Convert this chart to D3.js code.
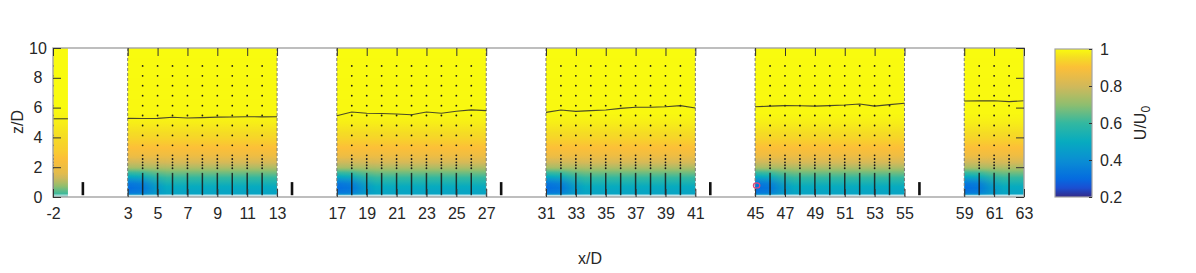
<!DOCTYPE html>
<html><head><meta charset="utf-8">
<script src="https://cdn.jsdelivr.net/npm/d3@7"></script>
<style>
body{margin:0;background:#fff;}
svg{display:block;font-family:"Liberation Sans",Arial,Helvetica,sans-serif;}
</style>
</head><body>
<svg id="c" width="1196" height="273"></svg>
<script>
// ---------- data ----------
const xTickValues = [-2,3,5,7,9,11,13,17,19,21,23,25,27,31,33,35,37,39,41,45,47,49,51,53,55,59,61,63];
const yTickValues = [0,2,4,6,8,10];
const cbTickValues = [0.2,0.4,0.6,0.8,1];
const panelStart = [-2,3,17,31,45,59];
const panelEnd   = [-1,13,27,41,55,63];
const dashedX = [3,13,17,27,31,41,45,55,59];
const turbineX = [0,14,28,42,56];
const turbineZ = [0.12,1.0];
const probeX = [-2,4,5,6,7,8,9,10,11,12,18,19,20,21,22,23,24,25,26,32,33,34,35,36,37,38,39,40,46,47,48,49,50,51,52,53,54,60,61,62];
const probeDotZ = [8.8,8.13,7.47,6.8,6.13,5.47,4.8,4.13,3.47,2.8,2.55,2.33,2.13,1.93];
const probeRakeZ = [0.12,1.62];
// inflow profile (x=-2..-1)
const inflowZ = [0,0.15,0.5,1.0,1.6,2.2,3.0,4.0,5.0,6.0,10];
const inflowU = [0.6,0.6,0.66,0.75,0.84,0.88,0.92,0.95,0.98,1.0,1.0];
// wake profile (downstream panels)
const wakeZ = [0,0.15,0.4,0.7,1.0,1.3,1.7,2.0,2.4,2.8,3.3,4.0,5.0,5.6,10];
const wakeU = [0.48,0.48,0.48,0.5,0.55,0.6,0.68,0.75,0.82,0.87,0.9,0.94,0.98,0.995,1.0];
// near-wake profile (panel inlet)
const nearZ = [0,0.15,0.3,0.6,0.9,1.2,1.5,2.0,2.8,10];
const nearU = [0.42,0.4,0.33,0.3,0.33,0.42,0.55,0.74,0.87,1.0];
// U/U0 = 0.99 contour
const contourX = [
  [-2,-1],
  [3,4,5,6,7,8,9,10,11,12,13],
  [17,18,19,20,21,22,23,24,25,26,27],
  [31,32,33,34,35,36,37,38,39,40,41],
  [45,46,47,48,49,50,51,52,53,54,55],
  [59,60,61,62,63]
];
const contourZ = [
  [5.25,5.25],
  [5.28,5.27,5.28,5.35,5.3,5.33,5.36,5.37,5.39,5.38,5.39],
  [5.45,5.7,5.62,5.6,5.57,5.52,5.7,5.62,5.75,5.85,5.8],
  [5.68,5.84,5.75,5.8,5.84,5.95,6.02,6.02,6.06,6.13,5.97],
  [6.06,6.1,6.13,6.12,6.1,6.13,6.17,6.24,6.1,6.2,6.29],
  [6.44,6.45,6.46,6.4,6.46]
];
const markerX = [45.1];
const markerZ = [0.78];
// parula colormap
const parulaT = [0,0.0625,0.125,0.25,0.375,0.5,0.625,0.75,0.875,0.94,1];
const parulaC = ["#352a87","#1a4fd4","#046ce0","#0a8fd3","#07abbf","#33b8a0","#90be6e","#d2b95a","#fcbf38","#f5dc24","#f9fb0e"];

// ---------- scales ----------
const svg = d3.select("#c");
const x = d3.scaleLinear().domain([-2,63]).range([53,1024]);
const y = d3.scaleLinear().domain([0,10]).range([197,48]);
const cmap = d3.scaleLinear().domain(parulaT).range(parulaC).interpolate(d3.interpolateRgb).clamp(true);
const uColor = u => cmap((u-0.2)/0.8);
const defs = svg.append("defs");

defs.append("clipPath").attr("id","plotclip").append("rect")
  .attr("x",x(-2)).attr("y",y(10)).attr("width",x(63)-x(-2)).attr("height",y(0)-y(10));

function vGrad(id, zs, us){
  const prof = d3.scaleLinear().domain(zs).range(us).clamp(true);
  const g = defs.append("linearGradient").attr("id",id)
    .attr("gradientUnits","userSpaceOnUse")
    .attr("x1",0).attr("x2",0).attr("y1",y(0)).attr("y2",y(10));
  d3.range(0,10.001,0.05).forEach(z=>{
    g.append("stop").attr("offset",z/10).attr("stop-color",uColor(prof(z)));
  });
}
vGrad("gInflow",inflowZ,inflowU);
vGrad("gWake",wakeZ,wakeU);
vGrad("gNear",nearZ,nearU);

const hm = defs.append("linearGradient").attr("id","gMaskH").attr("x1",0).attr("x2",1).attr("y1",0).attr("y2",0);
[[0,1],[0.35,0.85],[0.7,0.3],[1,0]].forEach(s=>hm.append("stop").attr("offset",s[0]).attr("stop-color","#fff").attr("stop-opacity",s[1]));
defs.append("mask").attr("id","mNear").attr("maskContentUnits","objectBoundingBox")
  .append("rect").attr("x",0).attr("y",0).attr("width",1).attr("height",1).attr("fill","url(#gMaskH)");

const plot = svg.append("g").attr("clip-path","url(#plotclip)");

// field panels
panelStart.forEach((s,i)=>{
  const e = panelEnd[i];
  plot.append("rect").attr("x",x(s)).attr("y",y(10)).attr("width",x(e)-x(s)).attr("height",y(0.15)-y(10))
    .attr("fill", i===0 ? "url(#gInflow)" : "url(#gWake)");
  plot.append("rect").attr("x",x(s)).attr("y",y(0.15)).attr("width",x(e)-x(s)).attr("height",y(0)-y(0.15))
    .attr("fill", i===0 ? "#9fd6cf" : "#c6e6ec");
  if(i>0){
    plot.append("rect").attr("x",x(s)).attr("y",y(2.6)).attr("width",x(s+2.6)-x(s)).attr("height",y(0.15)-y(2.6))
      .attr("fill","url(#gNear)").attr("mask","url(#mNear)");
  }
});

// dashed panel edges
plot.selectAll(".dash").data(dashedX).join("line")
  .attr("x1",d=>x(d)).attr("x2",d=>x(d)).attr("y1",y(10)).attr("y2",y(0))
  .attr("stroke","#7a7a7a").attr("stroke-width",1).attr("stroke-dasharray","3,2");

// probe rakes
plot.selectAll(".rake").data(probeX).join("line")
  .attr("x1",d=>x(d)).attr("x2",d=>x(d)).attr("y1",y(probeRakeZ[0])).attr("y2",y(probeRakeZ[1]))
  .attr("stroke","#1a1a1a").attr("stroke-width",1.5).attr("opacity",0.85);
const dots = [];
probeX.forEach(px=>probeDotZ.forEach(pz=>dots.push([px,pz])));
plot.selectAll(".dot").data(dots).join("circle")
  .attr("cx",d=>x(d[0])).attr("cy",d=>y(d[1])).attr("r",0.9).attr("fill","#1a1a1a");

// contour
const line = d3.line().x(d=>x(d[0])).y(d=>y(d[1]));
contourX.forEach((xs,i)=>{
  plot.append("path").datum(xs.map((v,j)=>[v,contourZ[i][j]])).attr("d",line)
    .attr("fill","none").attr("stroke","#2b2b2b").attr("stroke-width",1.1).attr("opacity",0.85);
});

// marker
plot.selectAll(".mk").data(markerX).join("ellipse")
  .attr("cx",d=>x(d)).attr("cy",(d,i)=>y(markerZ[i])).attr("rx",3.2).attr("ry",2.6)
  .attr("fill","none").attr("stroke","#e2457c").attr("stroke-width",1.2);

// turbines
svg.selectAll(".turb").data(turbineX).join("line")
  .attr("x1",d=>x(d)).attr("x2",d=>x(d)).attr("y1",y(turbineZ[0])).attr("y2",y(turbineZ[1]))
  .attr("stroke","#111").attr("stroke-width",2.6);

// frame
svg.append("rect").attr("x",x(-2)).attr("y",y(10)).attr("width",x(63)-x(-2)).attr("height",y(0)-y(10))
  .attr("fill","none").attr("stroke","#a3a3a3").attr("stroke-width",1.4);

const txt = "#262626";
const FS = 16;
// axes
const axB = svg.append("g").attr("transform",`translate(0,${y(0)})`)
  .call(d3.axisBottom(x).tickValues(xTickValues).tickSize(-8).tickPadding(11).tickFormat(d=>String(d)));
const axT = svg.append("g").attr("transform",`translate(0,${y(10)})`)
  .call(d3.axisTop(x).tickValues(xTickValues).tickSize(-8).tickFormat(""));
const axL = svg.append("g").attr("transform",`translate(${x(-2)},0)`)
  .call(d3.axisLeft(y).tickValues(yTickValues).tickSize(-8).tickPadding(15).tickFormat(d=>String(d)));
const axR = svg.append("g").attr("transform",`translate(${x(63)},0)`)
  .call(d3.axisRight(y).tickValues(yTickValues).tickSize(-8).tickFormat(""));
[axB,axT,axL,axR].forEach(a=>{
  a.select(".domain").remove();
  a.selectAll(".tick line").attr("stroke","#333").attr("stroke-width",1);
  a.selectAll("text").attr("fill",txt).attr("font-size",FS).attr("font-family",null);
});
axL.selectAll("text").attr("text-anchor","middle");

// axis titles
svg.append("text").attr("x",590).attr("y",264).attr("text-anchor","middle")
  .attr("font-size",FS).attr("fill",txt).text("x/D");
svg.append("text").attr("transform","translate(23,122) rotate(-90)").attr("text-anchor","middle")
  .attr("font-size",FS).attr("fill",txt).text("z/D");

// colorbar
const cbX0 = 1055, cbX1 = 1092;
const cbY = d3.scaleLinear().domain([0.2,1]).range([197,49]);
const cg = defs.append("linearGradient").attr("id","gCb").attr("x1",0).attr("x2",0).attr("y1",1).attr("y2",0);
d3.range(0,1.0001,0.02).forEach(t=>cg.append("stop").attr("offset",t).attr("stop-color",cmap(t)));
svg.append("rect").attr("x",cbX0).attr("y",cbY(1)).attr("width",cbX1-cbX0).attr("height",cbY(0.2)-cbY(1))
  .attr("fill","url(#gCb)").attr("stroke","#a3a3a3").attr("stroke-width",1.2);
const axC = svg.append("g").attr("transform",`translate(${cbX1},0)`)
  .call(d3.axisRight(cbY).tickValues(cbTickValues).tickSize(-3).tickPadding(8)
    .tickFormat(d=>d===1?"1":d3.format(".1f")(d)));
axC.select(".domain").remove();
axC.selectAll(".tick line").attr("stroke","#333");
axC.selectAll("text").attr("fill",txt).attr("font-size",FS).attr("font-family",null);
const cl = svg.append("text").attr("transform","translate(1146,123) rotate(-90)").attr("text-anchor","middle")
  .attr("font-size",FS).attr("fill",txt);
cl.append("tspan").text("U/U");
cl.append("tspan").attr("font-size",12).attr("dy",4).text("0");
</script>
</body></html>
